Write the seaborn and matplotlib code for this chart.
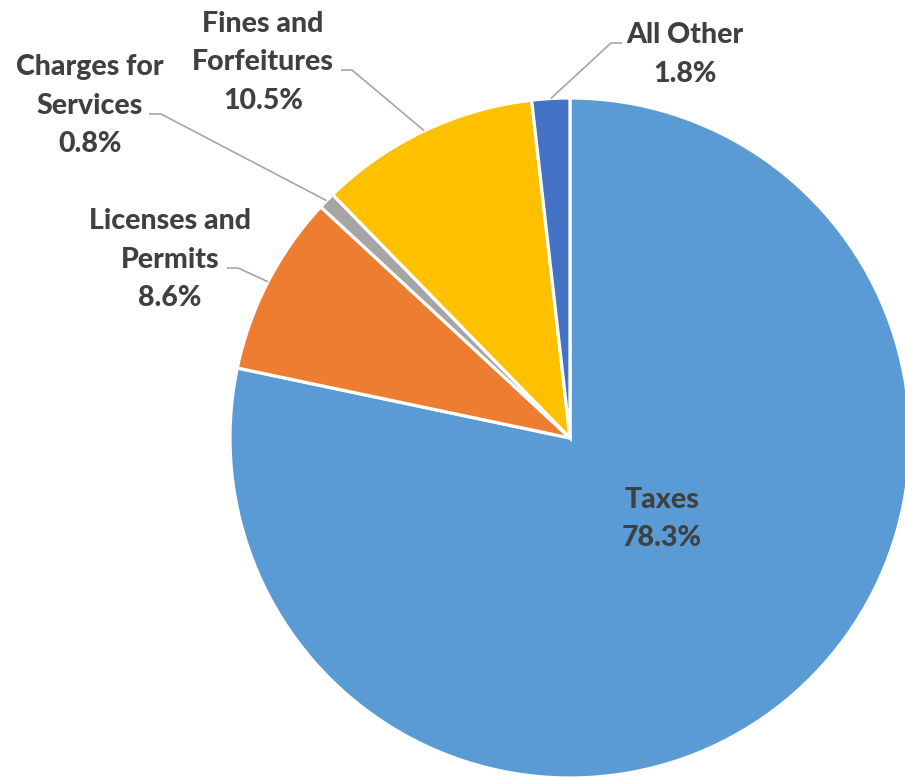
import matplotlib
matplotlib.use("Agg")
import matplotlib.pyplot as plt
import seaborn as sns
import numpy as np

categories = ["Taxes", "Licenses and Permits", "Charges for Services",
              "Fines and Forfeitures", "All Other"]
values = [78.3, 8.6, 0.8, 10.5, 1.8]
label_lines = [["Taxes"], ["Licenses and", "Permits"], ["Charges for", "Services"],
               ["Fines and", "Forfeitures"], ["All Other"]]
colors = ["#5B9BD5", "#ED7D31", "#A5A5A5", "#FFC000", "#4472C4"]

sns.set_style("white")
plt.rcParams['font.family'] = ['Lato', 'DejaVu Sans']

W, H = 905, 781
fig = plt.figure(figsize=(W / 100, H / 100), dpi=100)
ax = fig.add_axes([0, 0, 1, 1])
ax.set_xlim(0, W)
ax.set_ylim(0, H)
ax.set_aspect("equal")
ax.axis("off")

cx, cy, R = 570, H - 438, 340
wedges, _ = ax.pie(values, colors=sns.color_palette(colors), startangle=90,
                   counterclock=False, radius=R, center=(cx, cy),
                   wedgeprops=dict(edgecolor="white", linewidth=2.3))
ax.set_xlim(0, W)
ax.set_ylim(0, H)

txt_color = "#404040"
fs = 20.5
pitch = 38.5

# layout: (center x px, first baseline y px, elbow x px, horizontal end x px, leader y px)
layout = [
    (662, 508, None, None, None),
    (170, 229, 238, 227, 268),
    (90, 75, 161, 149, 114),
    (263, 32, 352, 341, 70),
    (685, 43, 611, 622, 43),
]

for i, (cat, val) in enumerate(zip(categories, values)):
    x, y0, ex, hx, ly = layout[i]
    lines = label_lines[i] + [f"{val:.1f}%"]
    for k, line in enumerate(lines):
        ax.text(x, H - (y0 + k * pitch), line, ha="center", va="baseline",
                fontsize=fs, fontweight=900, color=txt_color)
    if ex is not None:
        w = wedges[i]
        mid = np.deg2rad((w.theta1 + w.theta2) / 2)
        tx, ty = cx + R * np.cos(mid), cy + R * np.sin(mid)
        ax.plot([tx, ex, hx], [ty, H - ly, H - ly], color="#A6A6A6", lw=1.2,
                solid_capstyle="butt")

fig.savefig("out.png", dpi=100)
